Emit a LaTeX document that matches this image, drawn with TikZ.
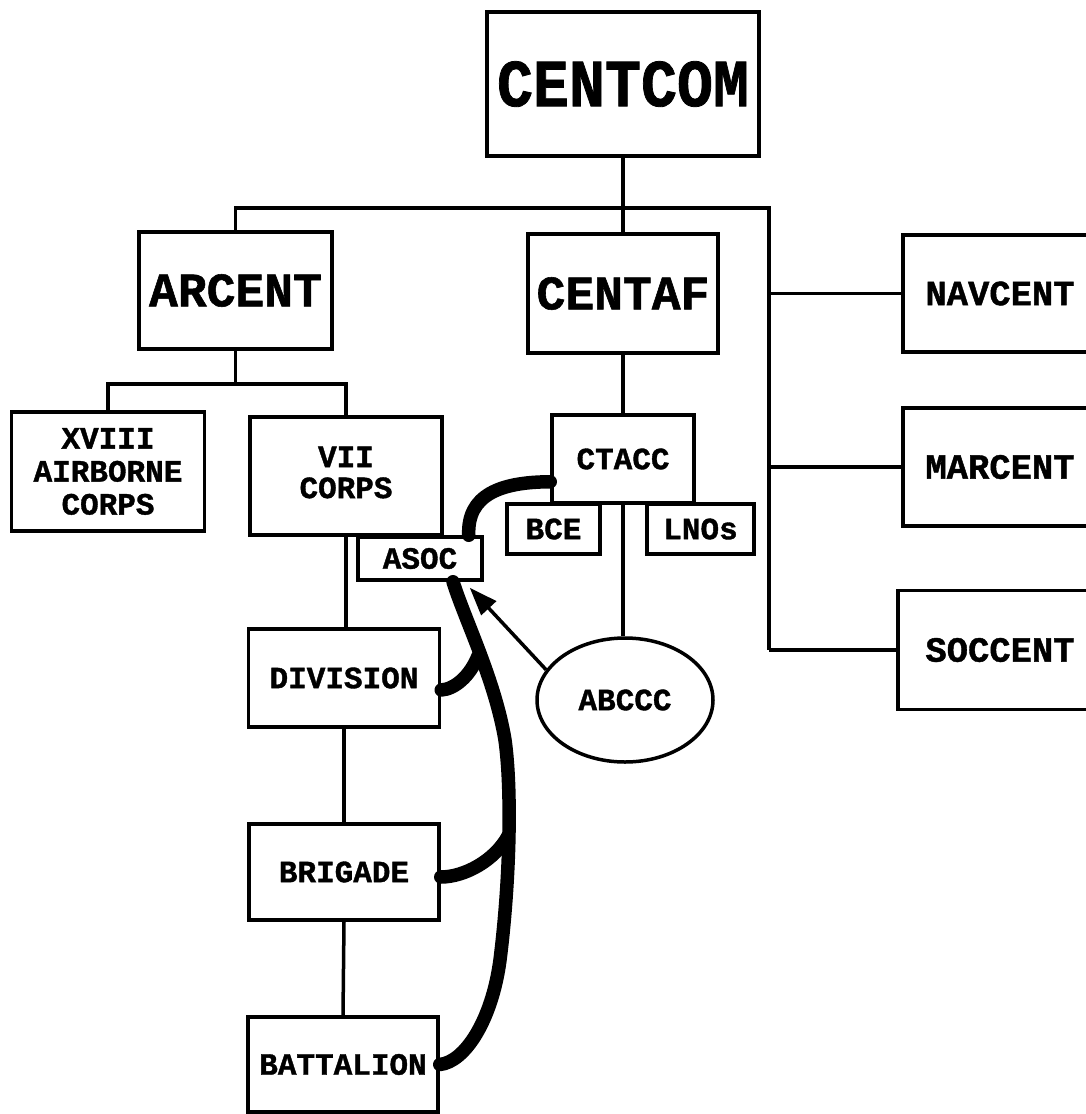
\documentclass[tikz,border=0pt]{standalone}
\usepackage{fontspec}
\setmainfont{Liberation Mono}[BoldFeatures={FakeBold=1.2}]
\usetikzlibrary{calc,shapes.geometric,arrows.meta}
\begin{document}
\begin{tikzpicture}[x=1pt,y=-1pt,
  box/.style={draw,line width=3.5pt,rectangle,inner sep=0pt,align=center,
    font=\bfseries\fontsize{31}{33}\selectfont},
  bigbox/.style={box,font=\bfseries\fontsize{48}{48}\selectfont},
  midbox/.style={box,font=\bfseries\fontsize{35.5}{36}\selectfont},
  conn/.style={line width=3.5pt},
  thick link/.style={line width=13.5pt,line cap=round,line join=round},
  arrowlink/.style={line width=3.5pt,-{Triangle[length=28pt,width=20pt]}}]
\fill[white] (0,0) rectangle (1086,1114);
\useasboundingbox (0,0) rectangle (1086,1114);
\clip (0,0) rectangle (1086,1114);

% nodes
\node[box,minimum width=272pt,minimum height=144pt,
  font=\bfseries\fontsize{60}{60}\selectfont] (centcom) at (623,84) {\scalebox{1}[1.12]{CENTCOM}};
\node[bigbox,minimum width=193pt,minimum height=117pt] (arcent) at (235.5,290.5) {ARCENT};
\node[bigbox,minimum width=190pt,minimum height=119pt] (centaf) at (623,293.5) {CENTAF};
\node[midbox,minimum width=194pt,minimum height=117pt] (navcent) at (1000,293.5) {NAVCENT};
\node[midbox,minimum width=194pt,minimum height=118pt] (marcent) at (1000,467) {MARCENT};
\node[midbox,minimum width=204pt,minimum height=119pt] (soccent) at (1000,650) {SOCCENT};

\node[box,minimum width=193pt,minimum height=119pt] (xviii) at (108,471.5) {XVIII\\AIRBORNE\\CORPS};
\node[box,minimum width=192pt,minimum height=118pt] (vii) at (346,476) {\raisebox{4pt}{\begin{tabular}{@{}c@{}}VII\\[-2pt]CORPS\end{tabular}}};
\node[box,minimum width=124pt,minimum height=43pt] (asoc) at (420,558.5) {ASOC};

\node[box,minimum width=142pt,minimum height=88pt] (ctacc) at (623,459) {CTACC};
\node[box,minimum width=93pt,minimum height=50pt] (bce) at (553.5,529) {BCE};
\node[box,minimum width=107pt,minimum height=50pt] (lnos) at (700.5,529) {LNOs};
\node[draw,line width=3.5pt,ellipse,inner sep=0pt,minimum width=176pt,minimum height=124pt,
  font=\bfseries\fontsize{31}{33}\selectfont] (abccc) at (625,700) {ABCCC};

\node[box,minimum width=191pt,minimum height=98pt] (division) at (344,678) {DIVISION};
\node[box,minimum width=190pt,minimum height=96pt] (brigade) at (344,872) {BRIGADE};
\node[box,minimum width=190pt,minimum height=95pt] (battalion) at (343,1064.5) {BATTALION};

% top-level bus
\coordinate (busL) at (236,208);
\coordinate (busR) at (769,208);
\draw[conn] (centcom.south) -- (centaf.north);
\draw[conn] (arcent.north) -- (arcent.north |- busL) -- (busR) -- (busR |- soccent.west);
\draw[conn] (navcent.west) -- (navcent.west -| busR);
\draw[conn] (marcent.west) -- (marcent.west -| busR);
\draw[conn] (soccent.west) -- (soccent.west -| busR);

% army branch
\coordinate (abL) at (108,384);
\draw[conn] (arcent.south) -- (arcent.south |- abL);
\draw[conn] (xviii.north) -- (xviii.north |- abL) -- (vii.north |- abL) -- (vii.north);
\draw[conn] (vii.south) -- (vii.south |- division.north);
\draw[conn] (division.south) -- (brigade.north);
\draw[conn] (brigade.south) -- (battalion.north);

% air force branch
\draw[conn] (centaf.south) -- (ctacc.north);
\draw[conn] (ctacc.south) -- (ctacc.south |- abccc.north);

% arrow ABCCC -> ASOC
\draw[arrowlink] (abccc.159) -- ($(asoc.south east)+(-14,6)$);

% thick coordination links
\coordinate (j1) at (478,656);
\coordinate (j2) at (508,836);
\draw[thick link] ($(ctacc.south west)+(0,-23)$)
  .. controls (500,482) and (467,495) .. ($(asoc.north east)+(-15,0)$);
\draw[thick link] ($(asoc.south)+(33,0)$)
  .. controls (465,620) and (495,680) .. (505,740)
  .. controls (512,790) and (510,880) .. (500,960)
  .. controls (492,1020) and (465,1062) .. (battalion.east);
\draw[thick link] ($(division.east)+(0,12)$)
  .. controls (455,689) and (470,676) .. (j1);
\draw[thick link] ($(brigade.east)+(0,5)$)
  .. controls (465,877) and (495,860) .. (j2);
\end{tikzpicture}
\end{document}
